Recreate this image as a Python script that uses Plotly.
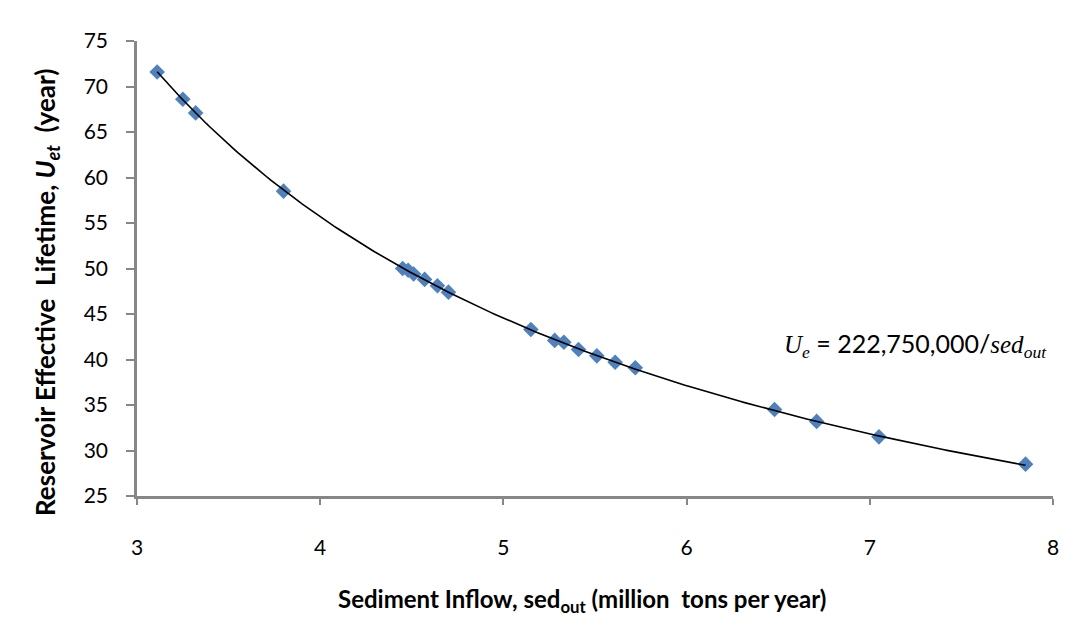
import numpy as np
import plotly.graph_objects as go

# Data
sed_out = [3.11, 3.25, 3.32, 3.80, 4.45, 4.48, 4.51, 4.57, 4.64, 4.70,
           5.15, 5.28, 5.33, 5.41, 5.51, 5.61, 5.72, 6.48, 6.71, 7.05, 7.85]
lifetime = [71.6, 68.6, 67.1, 58.5, 50.0, 49.8, 49.4, 48.8, 48.1, 47.4,
            43.3, 42.1, 41.9, 41.1, 40.4, 39.7, 39.1, 34.5, 33.2, 31.5, 28.5]
trend_coef = 222.75  # U_e = 222,750,000 / sed_out (sed in million tons)

x_ticks = [3, 4, 5, 6, 7, 8]
y_ticks = [25, 30, 35, 40, 45, 50, 55, 60, 65, 70, 75]

FONT = "Lato, 'Open Sans', sans-serif"
SERIF = "Liberation Serif, DejaVu Serif, serif"

tx = np.linspace(min(sed_out), max(sed_out), 300)
ty = trend_coef / tx

fig = go.Figure()
fig.add_trace(go.Scatter(
    x=sed_out, y=lifetime, mode="markers",
    marker=dict(symbol="diamond", size=12, color="#4F81BD", line=dict(width=0)),
    showlegend=False, hoverinfo="x+y"))
fig.add_trace(go.Scatter(
    x=tx, y=ty, mode="lines", line=dict(color="black", width=1.6),
    showlegend=False, hoverinfo="skip"))

axis_common = dict(
    showgrid=False, zeroline=False, showline=True, linecolor="#878787",
    linewidth=2.5, ticks="outside", tickcolor="#878787", tickwidth=2,
    tickfont=dict(family=FONT, size=21, color="black"))

fig.update_xaxes(range=[3, 8], tickvals=x_ticks, ticktext=[str(v) for v in x_ticks],
                 ticklen=6, ticklabelstandoff=25, **axis_common)
fig.update_yaxes(range=[25, 75], tickvals=y_ticks, ticktext=[str(v) for v in y_ticks],
                 ticklen=8, ticklabelstandoff=14, **axis_common)

PL, PR, PT, PB = 137, 1053, 41, 496
W, H = 1091, 633

def px_x(px):
    return (px - PL) / (PR - PL)

def px_y(py):
    return (PB - py) / (PB - PT)

fig.add_annotation(
    x=px_x(582), y=px_y(600), xref="paper", yref="paper", showarrow=False,
    xanchor="center", yanchor="middle",
    text="<b>Sediment Inflow, sed<sub>out</sub> (million  tons per year)</b>",
    font=dict(family=FONT, size=24, color="black"))

fig.add_annotation(
    x=px_x(46), y=px_y(293), xref="paper", yref="paper", showarrow=False,
    xanchor="center", yanchor="middle", textangle=-90,
    text="<b>Reservoir Effective  Lifetime, <i>U<sub>et</sub></i>  (year)</b>",
    font=dict(family=FONT, size=26, color="black"))

fig.add_annotation(
    x=px_x(1049), y=px_y(345), xref="paper", yref="paper", showarrow=False,
    xanchor="right", yanchor="middle",
    text=(f'<span style="font-family:{SERIF}"><i>U<sub>e</sub></i></span>'
          " = 222,750,000/"
          f'<span style="font-family:{SERIF}"><i>sed<sub>out</sub></i></span>'),
    font=dict(family=FONT, size=25, color="black"))

fig.update_layout(
    width=W, height=H, autosize=False,
    margin=dict(l=PL, r=W - PR, t=PT, b=H - PB, pad=0),
    plot_bgcolor="white", paper_bgcolor="white",
    font=dict(family=FONT, color="black"))

fig.write_html("out.html", config={"displayModeBar": False})
